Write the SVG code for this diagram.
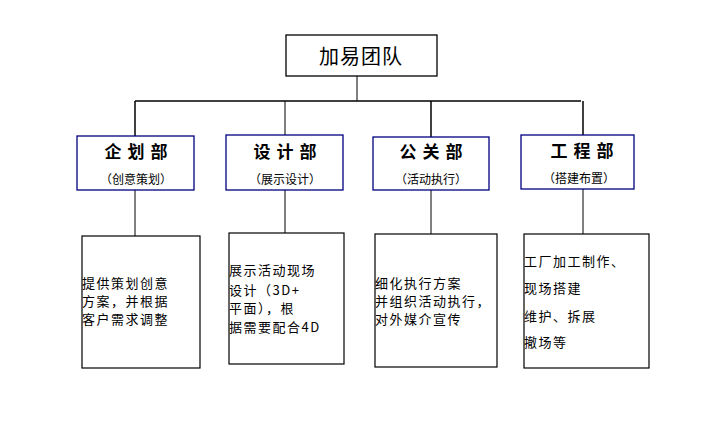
<svg xmlns="http://www.w3.org/2000/svg" width="728" height="425" viewBox="0 0 728 425">
<style>
.bg{fill:#fff}
.top{fill:#fff;stroke:#000;stroke-width:1.3}
.dept{fill:#fff;stroke:#000080;stroke-width:1.3}
.det{fill:#fff;stroke:#000;stroke-width:1.2}
.ln{stroke:#000;stroke-width:1.5;fill:none}
.thin{stroke:#000;stroke-width:1;fill:none}
text{font-family:"Noto Sans CJK SC","Noto Sans",sans-serif;fill:#000}
.t0{font-size:20px;letter-spacing:1px}
.t1{font-size:17px;font-weight:bold;letter-spacing:6px}
.t2{font-size:12px}
.t3{font-size:13px;letter-spacing:1.5px}
</style>
<rect class="bg" width="728" height="425"/>
<g id="connectors">
<line class="thin" x1="357" y1="76" x2="357" y2="101"/>
<line class="ln" x1="135" y1="101" x2="581" y2="101"/>
<line class="ln" x1="135" y1="101" x2="135" y2="136"/>
<line class="thin" x1="285" y1="101" x2="285" y2="135"/>
<line class="ln" x1="431" y1="101" x2="431" y2="137"/>
<line class="ln" x1="583" y1="101" x2="583" y2="139"/>
<line class="thin" x1="135" y1="190" x2="135" y2="236"/>
<line class="thin" x1="285" y1="190" x2="285" y2="233"/>
<line class="thin" x1="431" y1="190" x2="431" y2="234"/>
<line class="thin" x1="583" y1="189" x2="583" y2="234"/>
</g>
<g id="root">
<rect class="top" x="286" y="35" width="151" height="41"/>
<text class="t0" x="361" y="64" text-anchor="middle">加易团队</text>
</g>
<g id="dept1">
<rect class="dept" x="77" y="136" width="117" height="54"/>
<text class="t1" x="139" y="158" text-anchor="middle">企划部</text>
<text class="t2" x="136" y="184" text-anchor="middle">（创意策划）</text>
</g>
<g id="dept2">
<rect class="dept" x="226" y="135" width="117" height="55"/>
<text class="t1" x="288" y="158" text-anchor="middle">设计部</text>
<text class="t2" x="285" y="184" text-anchor="middle">（展示设计）</text>
</g>
<g id="dept3">
<rect class="dept" x="373" y="137" width="116" height="53"/>
<text class="t1" x="434" y="158" text-anchor="middle">公关部</text>
<text class="t2" x="431" y="184" text-anchor="middle">（活动执行）</text>
</g>
<g id="dept4">
<rect class="dept" x="521" y="135" width="113" height="54"/>
<text class="t1" x="585" y="157" text-anchor="middle">工程部</text>
<text class="t2" x="579" y="183" text-anchor="middle">（搭建布置）</text>
</g>
<g id="detail1">
<rect class="det" x="82" y="236" width="118" height="132"/>
<text class="t3" x="82" y="288">提供策划创意</text>
<text class="t3" x="82" y="306">方案，并根据</text>
<text class="t3" x="82" y="324">客户需求调整</text>
</g>
<g id="detail2">
<rect class="det" x="229" y="233" width="115" height="131"/>
<text class="t3" x="229" y="275">展示活动现场</text>
<text class="t3" x="229" y="295">设计（3D+</text>
<text class="t3" x="229" y="313">平面），根</text>
<text class="t3" x="229" y="332">据需要配合4D</text>
</g>
<g id="detail3">
<rect class="det" x="375" y="234" width="122" height="133"/>
<text class="t3" x="375" y="288">细化执行方案</text>
<text class="t3" x="375" y="306" letter-spacing="0.6">并组织活动执行，</text>
<text class="t3" x="375" y="324">对外媒介宣传</text>
</g>
<g id="detail4">
<rect class="det" x="524" y="234" width="125" height="134"/>
<text class="t3" x="524" y="266">工厂加工制作、</text>
<text class="t3" x="524" y="293">现场搭建</text>
<text class="t3" x="524" y="321">维护、拆展</text>
<text class="t3" x="524" y="347">撤场等</text>
</g>
</svg>
